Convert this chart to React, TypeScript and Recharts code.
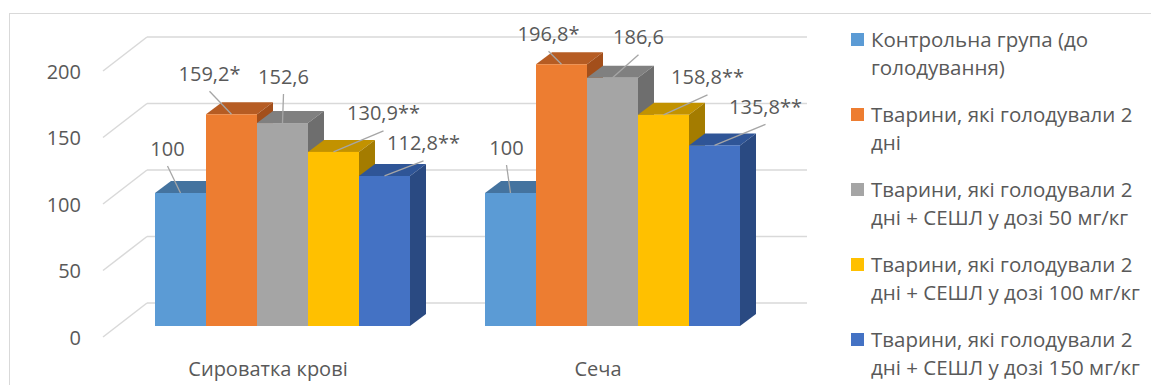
import React from 'react';
import { BarChart, Bar, XAxis, YAxis, CartesianGrid, LabelList, Legend } from 'recharts';

// ---- data ----
const categories = ['Сироватка крові', 'Сеча'];
const seriesNames = [
  'Контрольна група (до голодування)',
  'Тварини, які голодували 2 дні',
  'Тварини, які голодували 2 дні + СЕШЛ у дозі 50 мг/кг',
  'Тварини, які голодували 2 дні + СЕШЛ у дозі 100 мг/кг',
  'Тварини, які голодували 2 дні + СЕШЛ у дозі 150 мг/кг',
];
const controlValues = [100, 100];
const starvedValues = [159.2, 196.8];
const dose50Values = [152.6, 186.6];
const dose100Values = [130.9, 158.8];
const dose150Values = [112.8, 135.8];
// significance marks appended to the value labels
const controlMarks = ['', ''];
const starvedMarks = ['*', '*'];
const dose50Marks = ['', ''];
const dose100Marks = ['**', '**'];
const dose150Marks = ['**', '**'];
const yTicks = [0, 50, 100, 150, 200];

const seriesValues = [controlValues, starvedValues, dose50Values, dose100Values, dose150Values];
const seriesMarks = [controlMarks, starvedMarks, dose50Marks, dose100Marks, dose150Marks];

const data = categories.map((category, c) => {
  const row: Record<string, string | number> = { category };
  seriesValues.forEach((vals, s) => {
    row[`s${s}`] = vals[c];
  });
  return row;
});

// ---- styling ----
const FONT = '"Open Sans", "Noto Sans", sans-serif';
const TEXT = '#595959';
const GRID = '#d9d9d9';
const FRONT = ['#5b9bd5', '#ed7d31', '#a5a5a5', '#ffc000', '#4472c4'];
const TOP = ['#44739f', '#b65c23', '#808080', '#c29200', '#2f5597'];
const SIDE = ['#3a6590', '#a34f1b', '#6e6e6e', '#a47c00', '#2a4a82'];

const W = 1151;
const H = 385;
const PLOT_LEFT = 117;
const PLOT_TOP = 60;
const PLOT_BOTTOM = 326;
const LEGEND_W = 300;
const Y_AXIS_W = 40;
const X_AXIS_H = 30;

// perspective: front floor edge -> bar front plane, bar depth, back wall
const EDGE_DX = 14;
const EDGE_DY = 11;
const BAR_DX = 16;
const BAR_DY = 12;
const WALL_DX = 30;
const WALL_DY = 23;

// label placement relative to the top centre of each bar [series][category]
const labelNudge: [number, number][][] = [
  [[-13, -45], [-4, -46]],
  [[-22, -41], [-13, -31]],
  [[1, -47], [26, -41]],
  [[50, -39], [44, -38]],
  [[39, -33], [51, -39]],
];

const fmt = (v: number) => String(v).replace('.', ',');

const makeShape = (s: number) => (props: any) => {
  const { x, y, width, height } = props;
  const r = x + width;
  const b = y + height;
  return (
    <g>
      <polygon
        points={`${x},${y} ${x + BAR_DX},${y - BAR_DY} ${r + BAR_DX},${y - BAR_DY} ${r},${y}`}
        fill={TOP[s]}
      />
      <polygon
        points={`${r},${y} ${r + BAR_DX},${y - BAR_DY} ${r + BAR_DX},${b - BAR_DY} ${r},${b}`}
        fill={SIDE[s]}
      />
      <rect x={x} y={y} width={width} height={height} fill={FRONT[s]} />
    </g>
  );
};

const makeLabel = (s: number) => (props: any) => {
  const { x, y, width, index } = props;
  const v = seriesValues[s][index];
  const text = fmt(v) + seriesMarks[s][index];
  const cx = x + width / 2;
  const [ndx, ndy] = labelNudge[s][index];
  const tx = cx + ndx;
  const ty = y + ndy;
  return (
    <g>
      <line x1={tx} y1={ty + 18} x2={cx} y2={y} stroke="#a6a6a6" strokeWidth={1.3} />
      <text
        x={tx}
        y={ty}
        textAnchor="middle"
        dominantBaseline="central"
        fontFamily={FONT}
        fontSize={20}
        fill={TEXT}
      >
        {text}
      </text>
    </g>
  );
};

const gridLine = (props: any) => {
  const { x1, x2, y1, index } = props;
  return (
    <g key={`g-${index}`}>
      <line
        x1={x1 - EDGE_DX}
        y1={y1 + EDGE_DY}
        x2={x1 + WALL_DX}
        y2={y1 - WALL_DY}
        stroke={GRID}
        strokeWidth={1.5}
      />
      <line
        x1={x1 + WALL_DX}
        y1={y1 - WALL_DY}
        x2={x2 + WALL_DX}
        y2={y1 - WALL_DY}
        stroke={GRID}
        strokeWidth={1.5}
      />
    </g>
  );
};

const YTick = (props: any) => {
  const { y, payload } = props;
  return (
    <text
      x={PLOT_LEFT - 36}
      y={y + EDGE_DY}
      textAnchor="end"
      dominantBaseline="central"
      fontFamily={FONT}
      fontSize={20}
      fill={TEXT}
    >
      {payload.value}
    </text>
  );
};

const XTick = (props: any) => {
  const { x, payload } = props;
  return (
    <text
      x={x - EDGE_DX}
      y={PLOT_BOTTOM + 42}
      textAnchor="middle"
      dominantBaseline="central"
      fontFamily={FONT}
      fontSize={20}
      fill={TEXT}
    >
      {payload.value}
    </text>
  );
};

const LegendContent = () => (
  <div style={{ fontFamily: FONT, fontSize: 20.5, color: TEXT }}>
    {seriesNames.map((name, i) => (
      <div key={name} style={{ display: 'flex', alignItems: 'flex-start', height: 75 }}>
        <span
          style={{
            width: 13,
            height: 13,
            background: FRONT[i],
            marginTop: 8,
            marginRight: 7,
            flex: 'none',
          }}
        />
        <span style={{ lineHeight: '28px', width: 285 }}>{name}</span>
      </div>
    ))}
  </div>
);

export default function App() {
  return (
    <div
      style={{
        position: 'absolute',
        left: 0,
        top: 0,
        width: W,
        height: H,
        overflow: 'hidden',
        background: '#fff',
      }}
    >
      <div
        style={{
          position: 'absolute',
          left: 9,
          top: 13,
          width: W + 50,
          height: H + 50,
          border: `1px solid ${GRID}`,
        }}
      />
      <BarChart
        width={W}
        height={H}
        data={data}
        margin={{
          top: PLOT_TOP,
          left: PLOT_LEFT - Y_AXIS_W,
          bottom: H - PLOT_BOTTOM - X_AXIS_H,
          right: W - 777 - LEGEND_W,
        }}
        barGap={0}
        barCategoryGap={38}
      >
        <CartesianGrid vertical={false} horizontal={gridLine} />
        <XAxis
          dataKey="category"
          axisLine={false}
          tickLine={false}
          height={X_AXIS_H}
          tick={<XTick />}
          interval={0}
        />
        <YAxis
          domain={[0, 200]}
          ticks={yTicks}
          axisLine={false}
          tickLine={false}
          width={Y_AXIS_W}
          tick={<YTick />}
          interval={0}
        />
        <Legend
          layout="vertical"
          align="right"
          verticalAlign="top"
          width={LEGEND_W}
          content={<LegendContent />}
          wrapperStyle={{ left: 851, top: 25, width: LEGEND_W }}
        />
        {seriesNames.map((name, s) => (
          <Bar
            key={name}
            dataKey={`s${s}`}
            name={name}
            fill={FRONT[s]}
            shape={makeShape(s)}
            isAnimationActive={false}
          >
            <LabelList dataKey={`s${s}`} content={makeLabel(s)} />
          </Bar>
        ))}
      </BarChart>
    </div>
  );
}
